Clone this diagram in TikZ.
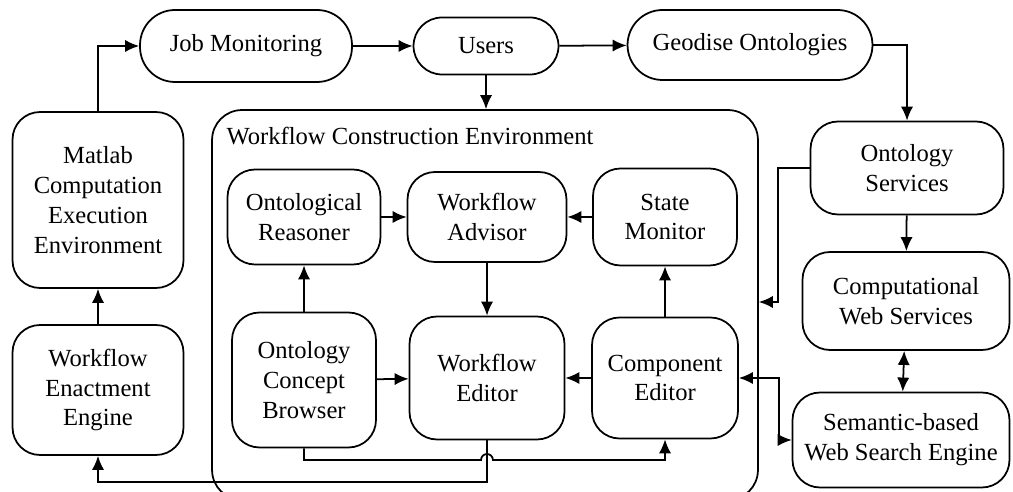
\documentclass[tikz,border=0pt]{standalone}
\usepackage{fontspec}
\setmainfont{Liberation Serif}
\usetikzlibrary{shapes,arrows.meta,calc,positioning}
\tikzstyle{arrow} = [line width=1pt, -{Latex[length=8pt,width=7pt]}]
\tikzstyle{twoway} = [line width=1pt, {Latex[length=8pt,width=7pt]}-{Latex[length=8pt,width=7pt]}]
\tikzstyle{box} = [draw, line width=1pt, rounded corners=0.55cm, align=center, inner sep=2pt]
\tikzstyle{pill} = [box, rounded corners=0.7cm]

\begin{document}
\begin{tikzpicture}[x=0.02cm,y=-0.02cm]
\fontsize{14}{17}\selectfont
\useasboundingbox (0,0) rectangle (1013,492);

% outer row
\node[pill,minimum width=4.24cm,minimum height=1.44cm] (jobmon) at (246,46) {Job Monitoring};
\node[pill,rounded corners=0.57cm,minimum width=2.9cm,minimum height=1.14cm] (users) at (486,46) {Users};
\node[pill,minimum width=4.9cm,minimum height=1.4cm] (geodise) at (750,45) {Geodise Ontologies};
\node[box,minimum width=3.86cm,minimum height=1.86cm] (ontserv) at (907,168) {Ontology\\Services};
\node[box,minimum width=4.14cm,minimum height=1.96cm] (compws) at (906,301) {Computational\\Web Services};
\node[box,minimum width=4.34cm,minimum height=1.9cm] (semweb) at (901,440) {Semantic-based\\Web Search Engine};
\node[box,minimum width=3.42cm,minimum height=3.52cm] (matlab) at (98,200) {Matlab\\Computation\\Execution\\Environment};
\node[box,minimum width=3.42cm,minimum height=2.6cm] (enact) at (98,390) {Workflow\\Enactment\\Engine};

% construction environment
\begin{scope}
\clip (0,0) rectangle (1013,492);
\node[box,rounded corners=0.6cm,minimum width=10.92cm,minimum height=7.8cm] (wce) at (485,305) {};
\end{scope}
\node[anchor=west] (wcelabel) at (218,136) {Workflow Construction Environment};

\node[box,minimum width=3.06cm,minimum height=1.9cm] (reasoner) at (304,217) {Ontological\\Reasoner};
\node[box,minimum width=3.18cm,minimum height=1.8cm] (advisor) at (487,217) {Workflow\\Advisor};
\node[box,minimum width=2.88cm,minimum height=1.94cm] (statemon) at (665,217) {State\\Monitor};
\node[box,minimum width=2.88cm,minimum height=2.7cm] (browser) at (304,380) {Ontology\\Concept\\Browser};
\node[box,minimum width=3.1cm,minimum height=2.46cm] (editor) at (487,378) {Workflow\\Editor};
\node[box,minimum width=2.92cm,minimum height=2.42cm] (compedit) at (665,378) {Component\\Editor};

% connectors
\draw[arrow] (matlab.north) |- (jobmon.west);
\draw[arrow] (jobmon) -- (users);
\draw[arrow] (users) -- (geodise);
\draw[arrow] (users.south) -- (users.south |- wce.north);
\draw[arrow] (geodise.east) -| (ontserv.north);
\draw[arrow] (ontserv.west) -- ++(-32,0) |- (wce.east |- 0,302);
\draw[arrow] (ontserv) -- (compws);
\draw[twoway] (compws) -- (semweb);
\draw[twoway] (compedit.east) -- ++(40,0) |- (semweb.west);
\draw[arrow] (enact) -- (matlab);

\draw[arrow] (reasoner) -- (advisor);
\draw[arrow] (statemon) -- (advisor);
\draw[arrow] (advisor) -- (editor);
\draw[arrow] (browser) -- (reasoner);
\draw[arrow] (browser) -- (editor);
\draw[arrow] (compedit) -- (editor);
\draw[arrow] (compedit) -- (statemon);

\coordinate (hop) at (481,460);
\coordinate (low) at (487,482);
\draw[arrow] (browser.south) |- (hop) arc[start angle=180,end angle=0,radius=3.4pt] -| (compedit.south);
\draw[arrow] (editor.south) -- (low) -| (enact.south);

\end{tikzpicture}
\end{document}
